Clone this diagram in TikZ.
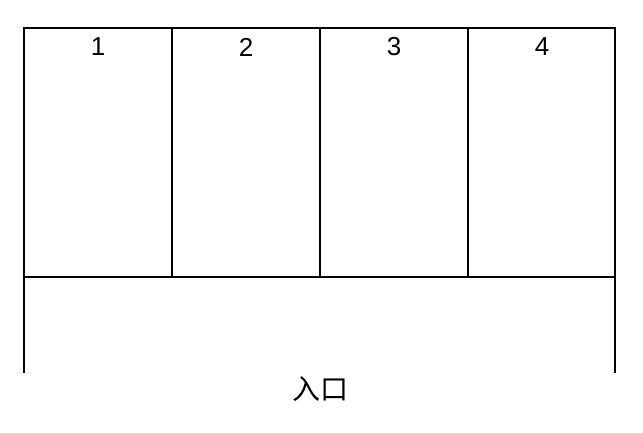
\documentclass[tikz,border=0pt]{standalone}
\usepackage{fontspec}
\setmainfont{Liberation Sans}
\newfontfamily\cjk{Noto Sans CJK SC}
\begin{document}
\begin{tikzpicture}[x=1pt,y=-1pt,
    wall/.style ={line width=2pt, line cap=rect},
    number/.style ={inner sep=0pt, font=\fontsize{26}{26}\selectfont}]
   \useasboundingbox (0,0) rectangle (643,433);
   \coordinate (tl) at (24,28);
   \coordinate (tr) at (615,28);
   \coordinate (ml) at (24,277);
   \coordinate (mr) at (615,277);
   \coordinate (bl) at (24,372);
   \coordinate (br) at (615,372);
   \draw[wall] (bl) -- (tl) -- (tr) -- (br);
   \draw[wall] (ml) -- (mr);
   \draw[wall] (172,28) -- (172,277);
   \draw[wall] (320,28) -- (320,277);
   \draw[wall] (468,28) -- (468,277);
   \node[number] (n1) at (98,47) {1};
   \node[number] (n2) at (246,47) {2};
   \node[number] (n3) at (394,47) {3};
   \node[number] (n4) at (542,47) {4};
   \node[inner sep=0pt, font=\cjk\fontsize{28}{28}\selectfont] (entry) at (320,389) {入口};
 \end{tikzpicture}
\end{document}
